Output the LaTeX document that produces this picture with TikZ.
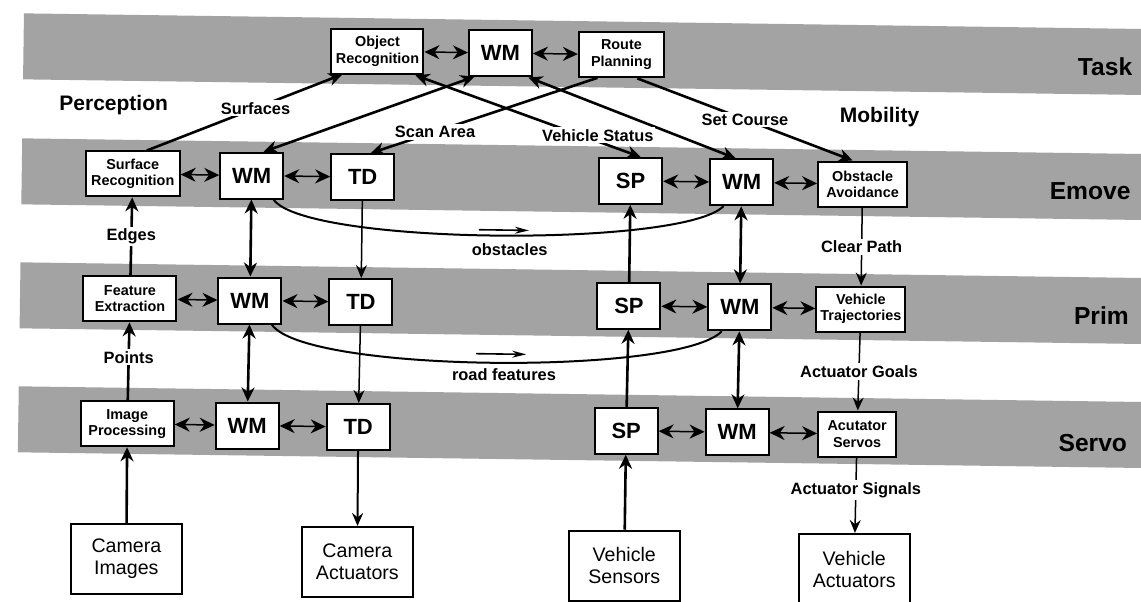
\documentclass[tikz,border=0pt]{standalone}
\usepackage{fontspec}
\setmainfont{Liberation Sans}
\usetikzlibrary{arrows.meta,positioning,calc}

\begin{document}
\begin{tikzpicture}[x=0.5pt,y=-0.5pt,
  band/.style={fill=black!36},
  unit/.style={draw,line width=1pt,fill=white,align=center,inner sep=1pt,
    minimum height=22.5pt,font=\bfseries\fontsize{7.2}{8.2}\selectfont},
  core/.style={unit,minimum width=31.5pt,minimum height=23pt,
    font=\bfseries\fontsize{11}{12}\selectfont},
  io/.style={draw,line width=1pt,fill=white,align=center,minimum width=55.5pt,
    minimum height=35pt,font=\fontsize{9.8}{11}\selectfont},
  lvl/.style={anchor=east,font=\bfseries\fontsize{12.3}{14}\selectfont},
  colname/.style={font=\bfseries\fontsize{10.5}{12}\selectfont},
  lbl/.style={fill=white,inner sep=1pt,font=\bfseries\fontsize{8.2}{9}\selectfont},
  link/.style={line width=0.75pt,{Stealth[length=7.5pt,width=7pt]}-{Stealth[length=7.5pt,width=7pt]}},
  wmlink/.style={line width=1.3pt,{Stealth[length=7pt,width=6.5pt]}-{Stealth[length=7pt,width=6.5pt]}},
  thickarr/.style={line width=1.3pt,-{Stealth[length=7pt,width=6.5pt]}},
  cmd/.style={line width=0.75pt,-{Stealth[length=6.5pt,width=5.5pt,inset=2.2pt]}},
  curveline/.style={line width=1pt},
  hint/.style={line width=0.8pt,-{Stealth[length=7pt,width=3.5pt]}}]
\useasboundingbox (0,0) rectangle (1141,601);
\clip (0,0) rectangle (1141,601);
\begin{scope}[rotate around={-0.8:(570,300)}]
% levels
\foreach \y in {54,179,303,427} \fill[band] (20,\y-33) rectangle (1190,\y+33);
\foreach \y/\t in {59/Task,183/Emove,308/Prim,435/Servo} \node[lvl] (lvl\t) at (1136,\y) {\t};
\node[colname] (perc) at (111,111) {Perception};
\node[colname] (mobil) at (877,113) {Mobility};

% task
\node[unit,minimum width=46pt] (objRec) at (374,54) {Object\\Recognition};
\node[core] (wmT) at (497,54) {WM};
\node[unit,minimum width=42.5pt] (routeP) at (618,54) {Route\\Planning};
% emove
\node[unit,minimum width=47pt] (srE) at (131,180) {Surface\\Recognition};
\node[core] (wmEl) at (250,180) {WM};
\node[core] (tdE) at (361,180) {TD};
\node[core] (spE) at (629,180) {SP};
\node[core] (wmEr) at (740,180) {WM};
\node[unit,minimum width=44.5pt] (oaE) at (861,180) {Obstacle\\Avoidance};
% prim
\node[unit,minimum width=46.5pt] (feP) at (130,305) {Feature\\Extraction};
\node[core] (wmPl) at (250,305) {WM};
\node[core] (tdP) at (361,305) {TD};
\node[core] (spP) at (629,305) {SP};
\node[core] (wmPr) at (740,305) {WM};
\node[unit,minimum width=44.5pt] (vtP) at (861,305) {Vehicle\\Trajectories};
% servo
\node[unit,minimum width=46.5pt] (ipS) at (129,430) {Image\\Processing};
\node[core] (wmSl) at (249,430) {WM};
\node[core] (tdS) at (360,430) {TD};
\node[core] (spS) at (628,430) {SP};
\node[core] (wmSr) at (739,430) {WM};
\node[unit,minimum width=39pt] (asS) at (859,430) {Acutator\\Servos};
% world
\node[io] (camImg) at (130,565) {Camera\\Images};
\node[io] (camAct) at (361,565) {Camera\\Actuators};
\node[io] (vehSens) at (628,565) {Vehicle\\Sensors};
\node[io] (vehAct) at (858,565) {Vehicle\\Actuators};

% links inside a level
\draw[link] (objRec) -- (wmT);
\draw[link] (wmT) -- (routeP);
\foreach \a/\b in {srE/wmEl,wmEl/tdE,spE/wmEr,wmEr/oaE,feP/wmPl,wmPl/tdP,spP/wmPr,wmPr/vtP,
  ipS/wmSl,wmSl/tdS,spS/wmSr,wmSr/asS}
  \draw[link] (\a) -- (\b);

% task <-> emove
\draw[thickarr] ($(srE.north)+(14,0)$) -- node[lbl,pos=0.556]{Surfaces} ($(objRec.south)+(-35,0)$);
\draw[wmlink] ($(wmT.south)+(-26,0)$) -- ($(wmEl.north)+(12,0)$);
\draw[wmlink] ($(wmT.south)+(28,0)$) -- ($(wmEr.north)+(-6,0)$);
\draw[thickarr] ($(routeP.south)+(-24,0)$) -- node[lbl,pos=0.716]{Scan Area} ($(tdE.north)+(8,0)$);
\draw[wmlink] ($(spE.north)+(10,0)$) -- node[lbl,pos=0.19,yshift=3pt]{Vehicle Status} ($(objRec.south)+(38,0)$);
\draw[thickarr] ($(routeP.south)+(16,0)$) -- node[lbl]{Set Course} ($(oaE.north)+(-10,0)$);

% perception column
\draw[thickarr] (feP) -- node[lbl]{Edges} (srE);
\draw[thickarr] (ipS) -- node[lbl,pos=0.55]{Points} (feP);
\draw[thickarr] (camImg) -- (ipS);
% world model columns
\draw[wmlink] (wmEl) -- (wmPl);
\draw[wmlink] (wmPl) -- (wmSl);
\draw[wmlink] (wmEr) -- (wmPr);
\draw[wmlink] (wmPr) -- (wmSr);
% camera task decomposition
\draw[cmd] (tdE) -- (tdP);
\draw[cmd] (tdP) -- (tdS);
\draw[cmd,line width=1pt] (tdS) -- (camAct);
% vehicle sensing
\draw[thickarr] (vehSens) -- (spS);
\draw[thickarr] (spS) -- (spP);
\draw[thickarr] (spP) -- (spE);
% mobility commands
\draw[cmd] (oaE) -- node[lbl]{Clear Path} (vtP);
\draw[cmd] (vtP) -- node[lbl]{Actuator Goals} (asS);
\draw[cmd] (asS) -- node[lbl,pos=0.43]{Actuator Signals} (vehAct);

% world model exchange
\draw[curveline] ($(wmEl.south)+(22,0)$) .. controls +(35,45) and +(-40,42) .. ($(wmEr.south)+(-18,0)$);
\draw[curveline] ($(wmPl.south)+(22,0)$) .. controls +(35,48) and +(-40,45) .. ($(wmPr.south)+(-18,0)$);
\coordinate (obsA) at (478,231);
\coordinate (obsB) at (528,231);
\draw[hint] (obsA) -- (obsB);
\node[lbl,fill=none] (obsLbl) at (509,250) {obstacles};
\coordinate (roadA) at (477,355);
\coordinate (roadB) at (527,355);
\draw[hint] (roadA) -- (roadB);
\node[lbl,fill=none] (roadLbl) at (505,376) {road features};
\end{scope}
\end{tikzpicture}
\end{document}
